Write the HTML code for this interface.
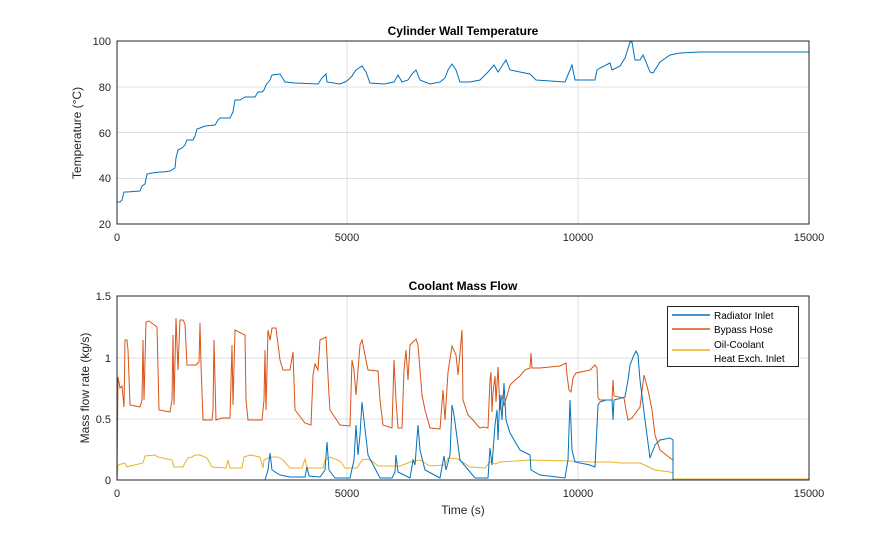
<!DOCTYPE html>
<html><head><meta charset="utf-8"><style>
body{margin:0;background:#fff}
svg{display:block;font-family:"Liberation Sans",sans-serif}
</style></head><body>
<svg width="895" height="540" viewBox="0 0 895 540" xmlns="http://www.w3.org/2000/svg">
<rect width="895" height="540" fill="#fff"/>
<!-- top axes -->
<g stroke="#dfdfdf" stroke-width="1">
<line x1="347" y1="41" x2="347" y2="224"/><line x1="578" y1="41" x2="578" y2="224"/>
<line x1="117" y1="178.5" x2="809" y2="178.5"/><line x1="117" y1="132.5" x2="809" y2="132.5"/><line x1="117" y1="87" x2="809" y2="87"/>
</g>
<polyline fill="none" stroke="#0072BD" stroke-width="1" points="117,202 120,202 122,200 124,192 127,192 140,191 142,186 145,184 147,174 152,173 160,172 163,172 170,171 175,168 176,158 178,150 182,148 185,145 187,140 193,140 195,136 197,129 200,128 205,126 215,125 218,120 220,118 230,118 233,112 235,100 240,100 245,97 255,97 258,92 262,92 264,90 266,85 270,80 272,75 280,74 285,82 295,83 318,84 322,78 326,74 327,82 340,84 345,82 348,80 352,76 356,70 362,66 366,72 370,83 384,84 394,82 398,75 402,82 408,80 412,74 416,70 420,80 430,84 440,82 445,78 448,70 452,64 456,70 460,82 470,82 480,80 488,72 494,65 498,72 502,66 506,60 510,70 520,72 530,74 536,80 565,82 570,70 572,65 575,80 595,80 597,70 600,68 610,63 612,70 620,66 625,58 630,42 632,42 635,60 640,60 643,55 646,62 650,72 653,73 660,62 670,55 680,53 700,52 809,52"/>
<rect x="117" y="41" width="692" height="183" fill="none" stroke="#262626" stroke-width="1"/>
<g font-size="11" fill="#262626" text-anchor="end">
<text x="111" y="228">20</text><text x="111" y="182">40</text><text x="111" y="137">60</text><text x="111" y="91">80</text><text x="111" y="45">100</text>
</g>
<g font-size="11" fill="#262626" text-anchor="middle">
<text x="117" y="241">0</text><text x="347" y="241">5000</text><text x="578" y="241">10000</text><text x="809" y="241">15000</text>
</g>
<text x="463" y="35" font-size="12" font-weight="bold" text-anchor="middle" fill="#000">Cylinder Wall Temperature</text>
<text transform="translate(81,133) rotate(-90)" font-size="12" text-anchor="middle" fill="#262626">Temperature  (°C)</text>
<!-- bottom axes -->
<g stroke="#dfdfdf" stroke-width="1">
<line x1="347" y1="296" x2="347" y2="480"/><line x1="578" y1="296" x2="578" y2="480"/>
<line x1="117" y1="419" x2="809" y2="419"/><line x1="117" y1="358" x2="809" y2="358"/>
</g>
<polyline fill="none" stroke="#EDB120" stroke-width="1" points="117,480 118,465 125,463 127,467 130,466 143,463 145,456 155,455 158,457 172,460 174,467 183,467 186,461 188,458 192,457 195,455 200,455 207,458 212,467 226,468 228,460 230,468 242,468 244,457 250,455 260,457 263,468 264,460 268,458 272,457 278,457 283,460 290,468 302,468 305,459 307,468 323,468 325,460 330,457 340,461 345,468 357,468 362,460 368,459 372,461 378,466 400,466 413,461 420,460 430,466 445,465 448,458 458,459 470,467 485,468 490,462 495,464 500,462 530,460 570,461 590,462 600,462 612,462 620,463 640,463 655,470 670,472 673,473 673,479 809,479"/>
<polyline fill="none" stroke="#D95319" stroke-width="1" points="117,480 118,377 120,388 122,386 124,407 125,340 127,340 128,350 130,405 140,407 142,400 143,340 144,400 146,322 149,321 157,327 159,410 170,412 172,400 173,335 174,405 176,318 178,370 180,320 183,320 185,324 187,365 196,365 199,362 200,323 201,365 203,420 212,420 213,410 214,340 216,420 222,418 230,418 232,345 233,405 235,330 245,335 246,400 248,420 262,420 264,400 265,350 266,410 268,330 270,340 272,328 276,328 280,360 283,370 290,370 293,352 295,410 305,423 311,425 313,375 315,364 318,370 320,340 326,337 329,395 330,410 340,425 350,426 352,360 354,370 356,395 360,345 362,340 368,370 378,371 380,400 383,425 392,428 394,360 396,400 398,428 402,428 404,370 406,350 408,380 410,345 416,339 418,345 422,395 425,410 430,428 440,429 443,390 445,420 448,372 452,346 456,355 458,375 462,330 463,400 468,415 473,420 478,426 480,428 483,427 488,428 490,380 491,372 492,412 493,393 495,376 496,402 498,367 500,410 502,395 504,405 507,396 510,385 515,380 520,376 525,370 530,368 531,353 532,368 540,368 560,366 566,363 567,375 569,390 571,392 573,378 576,373 590,370 595,365 597,368 598,398 600,400 612,400 613,380 614,396 624,398 626,410 628,420 632,418 640,407 644,375 648,390 652,410 655,435 660,450 670,458 673,460 673,480 809,480"/>
<polyline fill="none" stroke="#0072BD" stroke-width="1" points="117,480 265,480 268,470 270,453 272,470 280,475 290,477 305,477 307,467 309,476 320,477 325,470 327,442 329,470 335,478 350,478 354,460 356,425 358,455 360,435 362,402 364,420 368,455 380,478 392,478 395,472 396,455 398,472 410,478 413,460 415,465 418,425 420,450 425,470 440,478 444,456 446,470 450,455 452,405 454,415 456,430 460,460 475,478 488,478 490,448 492,465 495,425 497,410 498,440 500,395 502,420 504,383 506,420 510,433 520,450 530,455 531,470 540,475 565,478 568,460 570,400 572,450 575,462 590,465 595,467 598,405 600,402 606,400 612,400 613,420 614,400 625,397 628,380 630,365 634,355 636,351 638,355 640,380 645,420 650,458 655,445 660,440 670,438 673,440 673,480"/>
<rect x="117" y="296" width="692" height="184" fill="none" stroke="#262626" stroke-width="1"/>
<g font-size="11" fill="#262626" text-anchor="end">
<text x="111" y="484">0</text><text x="111" y="423">0.5</text><text x="111" y="362">1</text><text x="111" y="300">1.5</text>
</g>
<g font-size="11" fill="#262626" text-anchor="middle">
<text x="117" y="497">0</text><text x="347" y="497">5000</text><text x="578" y="497">10000</text><text x="809" y="497">15000</text>
</g>
<text x="463" y="290" font-size="12" font-weight="bold" text-anchor="middle" fill="#000">Coolant Mass Flow</text>
<text x="463" y="514" font-size="12" text-anchor="middle" fill="#262626">Time (s)</text>
<text transform="translate(89,388) rotate(-90)" font-size="12" text-anchor="middle" fill="#262626">Mass flow rate (kg/s)</text>
<!-- legend -->
<rect x="667.5" y="306.5" width="131" height="60" fill="#fff" stroke="#262626" stroke-width="1"/>
<g stroke-width="1.5">
<line x1="672" y1="315" x2="710" y2="315" stroke="#0072BD"/>
<line x1="672" y1="329" x2="710" y2="329" stroke="#D95319"/>
<line x1="672" y1="350" x2="710" y2="350" stroke="#EDB120"/>
</g>
<g font-size="10" fill="#000">
<text x="714" y="319">Radiator Inlet</text>
<text x="714" y="333">Bypass Hose</text>
<text x="714" y="348">Oil-Coolant</text>
<text x="714" y="362">Heat Exch. Inlet</text>
</g>
</svg>
</body></html>
